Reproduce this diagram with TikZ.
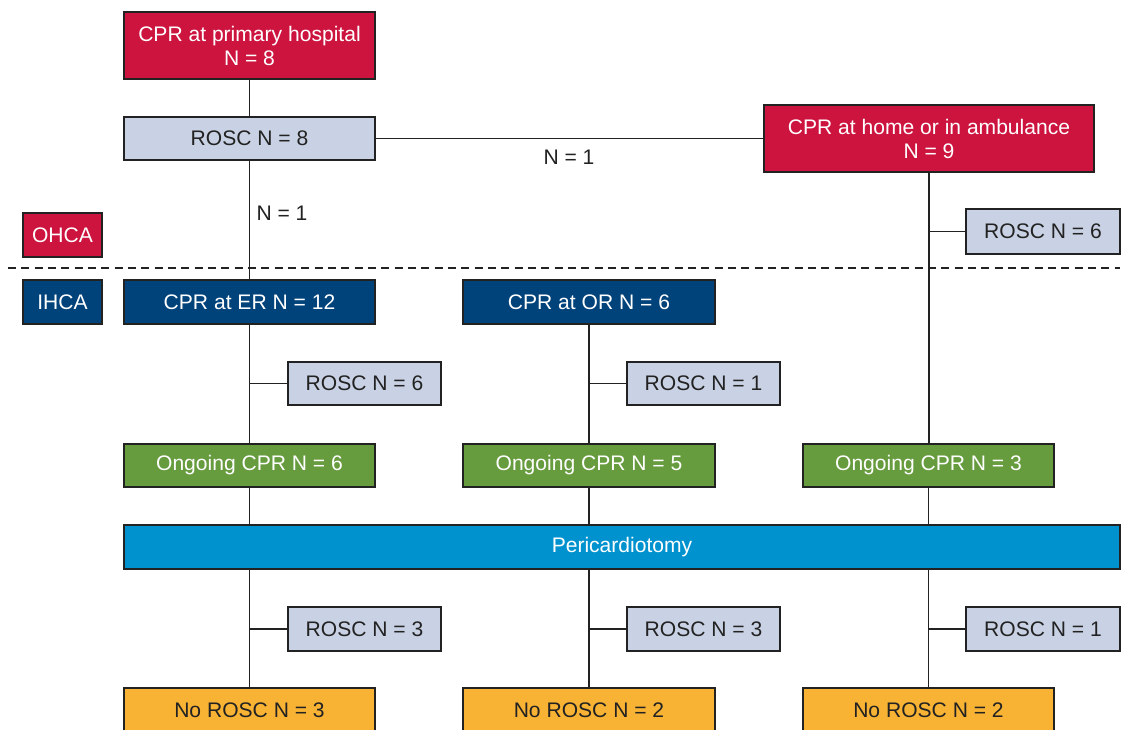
\documentclass[tikz,border=0pt]{standalone}
\usepackage{fontspec}
\setmainfont{Liberation Sans}
\definecolor{cred}{RGB}{204,20,62}
\definecolor{cnavy}{RGB}{0,66,122}
\definecolor{clight}{RGB}{201,210,228}
\definecolor{cgreen}{RGB}{102,155,62}
\definecolor{cblue}{RGB}{0,146,206}
\definecolor{corange}{RGB}{248,179,52}
\definecolor{cdark}{RGB}{34,34,34}
\begin{document}
\begin{tikzpicture}[x=0.75pt,y=-0.75pt,
  wh/.style 2 args={minimum width=#1*0.75pt, minimum height=#2*0.75pt},
  box/.style={draw=cdark, line width=1.5pt, inner sep=0pt, align=center,
    font=\fontsize{15.8}{18}\selectfont},
  redbox/.style={box, fill=cred, text=white},
  navybox/.style={box, fill=cnavy, text=white},
  lightbox/.style={box, fill=clight, text=cdark},
  greenbox/.style={box, fill=cgreen, text=white},
  bluebox/.style={box, fill=cblue, text=white},
  orangebox/.style={box, fill=corange, text=cdark},
  conn/.style={draw=cdark, line width=1.4pt},
  lbl/.style={text=cdark, font=\fontsize{15.8}{18}\selectfont, inner sep=0pt}]
\useasboundingbox (0,0) rectangle (1129,730);
\clip (0,0) rectangle (1129,730);
% dashed separator
\coordinate (dl) at (8,268);
\coordinate (dr) at (1120,268);
\draw[cdark, line width=1.3pt, dash pattern=on 6pt off 4pt] (dl) -- (dr);
% nodes
\node[redbox, wh={251}{67}] (hosp) at (249.5,45.5) {CPR at primary hospital\\N = 8};
\node[lightbox, wh={251}{43}] (rosc8) at (249.5,138.5) {ROSC N = 8};
\node[redbox, wh={330}{67}] (home) at (929,138.5) {CPR at home or in ambulance\\N = 9};
\node[lightbox, wh={154}{45}] (rosc6h) at (1043,231.5) {ROSC N = 6};
\node[redbox, wh={79}{44}] (ohca) at (62.5,235) {OHCA};
\node[navybox, wh={79}{44}] (ihca) at (62.5,302) {IHCA};
\node[navybox, wh={251}{44}] (er) at (249.5,302) {CPR at ER N = 12};
\node[navybox, wh={252}{44}] (or) at (589,302) {CPR at OR N = 6};
\node[lightbox, wh={153}{43}] (r6) at (364.5,383.5) {ROSC N = 6};
\node[lightbox, wh={153}{43}] (r1) at (703.5,383.5) {ROSC N = 1};
\node[greenbox, wh={251}{43}] (og6) at (249.5,465.5) {Ongoing CPR N = 6};
\node[greenbox, wh={252}{43}] (og5) at (589,465.5) {Ongoing CPR N = 5};
\node[greenbox, wh={251}{43}] (og3) at (928.5,465.5) {Ongoing CPR N = 3};
\node[bluebox, wh={996}{44}] (peri) at (622,547) {Pericardiotomy};
\node[lightbox, wh={153}{44}] (r3a) at (364.5,629) {ROSC N = 3};
\node[lightbox, wh={153}{44}] (r3b) at (703.5,629) {ROSC N = 3};
\node[lightbox, wh={154}{44}] (r1b) at (1043,629) {ROSC N = 1};
\node[orangebox, wh={251}{44}] (nr3) at (249.5,710) {No ROSC N = 3};
\node[orangebox, wh={252}{44}] (nr2a) at (589,710) {No ROSC N = 2};
\node[orangebox, wh={251}{44}] (nr2b) at (928.5,710) {No ROSC N = 2};
% labels
\node[lbl] (n1a) at (569,157) {N = 1};
\node[lbl] (n1b) at (282,213) {N = 1};
% connectors
\draw[conn] (hosp.south) -- (rosc8.north);
\draw[conn] (rosc8.east) -- (home.west);
\draw[conn] (rosc8.south) -- (er.north);
\draw[conn] (home.south) -- (home.south |- og3.north);
\draw[conn] (rosc6h.west) -- (rosc6h.west -| home.south);
\draw[conn] (er.south) -- (og6.north);
\draw[conn] (r6.west) -- (r6.west -| er.south);
\draw[conn] (or.south) -- (og5.north);
\draw[conn] (r1.west) -- (r1.west -| or.south);
\draw[conn] (og6.south) -- (og6.south |- peri.north);
\draw[conn] (og5.south) -- (og5.south |- peri.north);
\draw[conn] (og3.south) -- (og3.south |- peri.north);
\draw[conn] (nr3.north |- peri.south) -- (nr3.north);
\draw[conn] (nr2a.north |- peri.south) -- (nr2a.north);
\draw[conn] (nr2b.north |- peri.south) -- (nr2b.north);
\draw[conn] (r3a.west) -- (r3a.west -| nr3.north);
\draw[conn] (r3b.west) -- (r3b.west -| nr2a.north);
\draw[conn] (r1b.west) -- (r1b.west -| nr2b.north);
\end{tikzpicture}
\end{document}
